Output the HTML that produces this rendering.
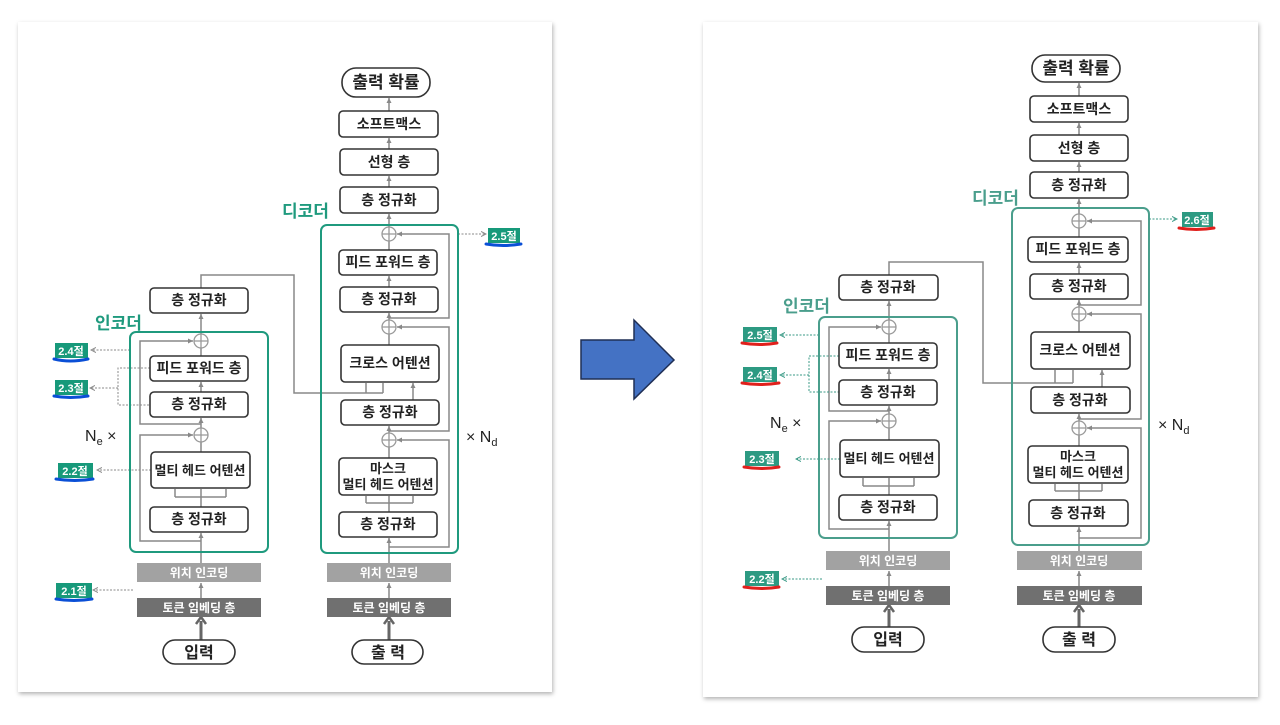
<!DOCTYPE html>
<html><head><meta charset="utf-8"><style>
body{margin:0;background:#fff;width:1280px;height:720px;overflow:hidden}
svg text{font-family:"Liberation Sans","Noto Sans CJK KR",sans-serif;font-weight:bold}
</style></head><body>
<svg width="1280" height="720" viewBox="0 0 1280 720" xmlns="http://www.w3.org/2000/svg">
<defs>
<marker id="a" markerWidth="6" markerHeight="6" refX="5" refY="3" orient="auto" markerUnits="userSpaceOnUse"><path d="M0,0.5 L5,3 L0,5.5 z" fill="#888"/></marker>
<marker id="ag" markerWidth="6" markerHeight="6" refX="5" refY="3" orient="auto" markerUnits="userSpaceOnUse"><path d="M0,0.5 L5,3 L0,5.5" fill="none" stroke="#888" stroke-width="1"/></marker>
<marker id="at" markerWidth="6" markerHeight="6" refX="5" refY="3" orient="auto" markerUnits="userSpaceOnUse"><path d="M0,0.5 L5,3 L0,5.5" fill="none" stroke="#3a9a86" stroke-width="1"/></marker>
<filter id="sh" x="-5%" y="-5%" width="110%" height="110%"><feDropShadow dx="1" dy="2" stdDeviation="2" flood-color="#000" flood-opacity="0.3"/></filter>
</defs>
<rect width="1280" height="720" fill="#fff"/>
<rect x="18" y="22" width="534" height="670" fill="#fff" filter="url(#sh)"/>
<rect x="703" y="22" width="555" height="675" fill="#fff" filter="url(#sh)"/>
<path d="M581,340 H634 V320 L674,360 L634,399 V379 H581 Z" fill="#4472c4" stroke="#1f2f55" stroke-width="1.5"/>

<!-- ============ LEFT ============ -->
<g stroke="#888" stroke-width="1.5" fill="none">
<!-- encoder -->
<line x1="201" y1="640" x2="201" y2="621" stroke="#666" stroke-width="3"/>
<path d="M196,624 L201,617 L206,624" stroke="#666" stroke-width="2.5"/>
<line x1="201" y1="598" x2="201" y2="583" marker-end="url(#a)"/>
<line x1="201" y1="563" x2="201" y2="533" marker-end="url(#a)"/>
<path d="M201,541 H140 V435 H193" marker-end="url(#a)"/>
<path d="M201,507 V497 M175,497 H226 M175,497 V489 M226,497 V489 M201,497 V489" />
<line x1="201" y1="452" x2="201" y2="442"/>
<line x1="201" y1="428" x2="201" y2="418" marker-end="url(#a)"/>
<path d="M201,424 H140 V341 H193" marker-end="url(#a)"/>
<line x1="201" y1="392" x2="201" y2="382" marker-end="url(#a)"/>
<line x1="201" y1="356" x2="201" y2="348"/>
<line x1="201" y1="334" x2="201" y2="314" marker-end="url(#a)"/>
<path d="M201,288 V275 H294 V393 H383 M366,393 V383 M383,393 V383"/>
<!-- decoder -->
<line x1="389" y1="640" x2="389" y2="621" stroke="#666" stroke-width="3"/>
<path d="M384,624 L389,617 L394,624" stroke="#666" stroke-width="2.5"/>
<line x1="389" y1="598" x2="389" y2="583" marker-end="url(#a)"/>
<line x1="389" y1="563" x2="389" y2="538" marker-end="url(#a)"/>
<path d="M389,547 H449 V440 H397" marker-end="url(#a)"/>
<path d="M389,512 V503 M366,503 H413 M366,503 V496 M413,503 V496 M389,503 V496"/>
<line x1="389" y1="458" x2="389" y2="447"/>
<line x1="389" y1="433" x2="389" y2="426" marker-end="url(#a)"/>
<path d="M389,431 H449 V327 H397" marker-end="url(#a)"/>
<line x1="413" y1="400" x2="413" y2="383" marker-end="url(#a)"/>
<line x1="389" y1="345" x2="389" y2="334"/>
<line x1="389" y1="320" x2="389" y2="313" marker-end="url(#a)"/>
<path d="M389,318 H449 V234 H397" marker-end="url(#a)"/>
<line x1="389" y1="287" x2="389" y2="276" marker-end="url(#a)"/>
<line x1="389" y1="250" x2="389" y2="241"/>
<line x1="389" y1="227" x2="389" y2="214" marker-end="url(#a)"/>
<line x1="389" y1="187" x2="389" y2="176" marker-end="url(#a)"/>
<line x1="389" y1="149" x2="389" y2="138" marker-end="url(#a)"/>
<line x1="389" y1="111" x2="389" y2="98" marker-end="url(#a)"/>
</g>
<g stroke="#888" stroke-width="1" fill="none" stroke-dasharray="2,1.5">
<line x1="130" y1="350" x2="91" y2="350" marker-end="url(#ag)"/>
<path d="M150,368 H118 V405 H150 M118,388 H91" />
<line x1="91" y1="388" x2="90" y2="388" marker-end="url(#ag)"/>
<line x1="151" y1="470" x2="97" y2="470" marker-end="url(#ag)"/>
<line x1="133" y1="590" x2="93" y2="590" marker-end="url(#ag)"/>
<line x1="458" y1="234" x2="486" y2="234" marker-end="url(#ag)"/>
</g>
<!-- containers -->
<rect x="130" y="332" width="138" height="220" rx="6" fill="none" stroke="#1f9a7e" stroke-width="2"/>
<rect x="321" y="225" width="137" height="328" rx="6" fill="none" stroke="#1f9a7e" stroke-width="2"/>
<g fill="#fff" stroke="#999" stroke-width="1.3">
<circle cx="201" cy="341" r="7"/><circle cx="201" cy="435" r="7"/>
<circle cx="389" cy="234" r="7"/><circle cx="389" cy="327" r="7"/><circle cx="389" cy="440" r="7"/>
</g>
<g stroke="#999" stroke-width="1.3">
<path d="M194,341H208M201,334V348M194,435H208M201,428V442M382,234H396M389,227V241M382,327H396M389,320V334M382,440H396M389,433V447"/>
</g>
<g fill="#fff" stroke="#333" stroke-width="1.6">
<rect x="342" y="68" width="88" height="29" rx="14"/>
<rect x="339" y="111" width="99" height="26" rx="4"/>
<rect x="340" y="149" width="98" height="26" rx="4"/>
<rect x="340" y="187" width="98" height="26" rx="4"/>
<rect x="339" y="250" width="98" height="25" rx="4"/>
<rect x="340" y="287" width="98" height="25" rx="4"/>
<rect x="341" y="345" width="98" height="37" rx="4"/>
<rect x="341" y="400" width="98" height="25" rx="4"/>
<rect x="339" y="458" width="98" height="37" rx="4"/>
<rect x="339" y="512" width="98" height="25" rx="4"/>
<rect x="352" y="640" width="71" height="24" rx="12"/>
<rect x="150" y="288" width="98" height="25" rx="4"/>
<rect x="150" y="356" width="98" height="25" rx="4"/>
<rect x="150" y="392" width="98" height="25" rx="4"/>
<rect x="151" y="452" width="99" height="36" rx="4"/>
<rect x="150" y="507" width="98" height="25" rx="4"/>
<rect x="163" y="640" width="72" height="24" rx="12"/>
</g>
<rect x="137" y="563" width="124" height="19" fill="#a2a2a2"/>
<rect x="137" y="598" width="124" height="19" fill="#707070"/>
<rect x="327" y="563" width="124" height="19" fill="#a2a2a2"/>
<rect x="327" y="598" width="124" height="19" fill="#707070"/>
<g font-size="14" text-anchor="middle" fill="#222">
<text x="386" y="88" font-size="17">출력 확률</text>
<text x="389" y="129">소프트맥스</text>
<text x="389" y="167">선형 층</text>
<text x="389" y="205">층 정규화</text>
<text x="388" y="267">피드 포워드 층</text>
<text x="389" y="304">층 정규화</text>
<text x="390" y="368">크로스 어텐션</text>
<text x="390" y="417">층 정규화</text>
<text x="388" y="473" font-size="13">마스크</text>
<text x="388" y="489" font-size="13">멀티 헤드 어텐션</text>
<text x="388" y="529">층 정규화</text>
<text x="388" y="658" font-size="16">출 력</text>
<text x="199" y="305">층 정규화</text>
<text x="199" y="373">피드 포워드 층</text>
<text x="199" y="409">층 정규화</text>
<text x="200" y="475" font-size="13">멀티 헤드 어텐션</text>
<text x="199" y="524">층 정규화</text>
<text x="199" y="658" font-size="16">입력</text>
<text x="199" y="577" font-size="12" fill="#fff">위치 인코딩</text>
<text x="199" y="612" font-size="12" fill="#fff">토큰 임베딩 층</text>
<text x="389" y="577" font-size="12" fill="#fff">위치 인코딩</text>
<text x="389" y="612" font-size="12" fill="#fff">토큰 임베딩 층</text>
</g>
<text x="282" y="217" font-size="17" fill="#1f9a7e">디코더</text>
<text x="95" y="329" font-size="17" fill="#1f9a7e">인코더</text>
<text x="85" y="441" font-size="16" font-weight="normal" fill="#222" style="font-weight:normal">N<tspan font-size="11" dy="4">e</tspan><tspan dy="-4"> ×</tspan></text>
<text x="466" y="442" font-size="16" fill="#222" style="font-weight:normal">× N<tspan font-size="11" dy="4">d</tspan></text>
<!-- badges left -->
<g font-size="11" fill="#fff" text-anchor="middle">
<rect x="55" y="343" width="33" height="15" fill="#17997a"/><text x="71" y="355">2.4절</text>
<rect x="55" y="380" width="33" height="15" fill="#17997a"/><text x="71" y="392">2.3절</text>
<rect x="58" y="463" width="35" height="15" fill="#17997a"/><text x="75" y="475">2.2절</text>
<rect x="56" y="583" width="36" height="15" fill="#17997a"/><text x="74" y="595">2.1절</text>
<rect x="488" y="228" width="32" height="15" fill="#17997a"/><text x="504" y="240">2.5절</text>
</g>
<g stroke="#0a4fd6" stroke-width="3" fill="none" stroke-linecap="round">
<path d="M54,359 Q70,363 88,359"/><path d="M54,396 Q70,399 88,396"/><path d="M56,479 Q75,482 93,479"/><path d="M56,599 Q74,602 92,599"/><path d="M486,244 Q503,247 521,244"/>
</g>

<!-- ============ RIGHT ============ -->
<g stroke="#888" stroke-width="1.5" fill="none">
<line x1="889" y1="627" x2="889" y2="609" stroke="#666" stroke-width="3"/>
<path d="M884,612 L889,605 L894,612" stroke="#666" stroke-width="2.5"/>
<line x1="889" y1="586" x2="889" y2="571" marker-end="url(#a)"/>
<line x1="889" y1="551" x2="889" y2="521" marker-end="url(#a)"/>
<path d="M889,529 H829 V421 H881" marker-end="url(#a)"/>
<path d="M889,495 V486 M863,486 H914 M863,486 V478 M914,486 V478 M889,486 V478"/>
<line x1="889" y1="440" x2="889" y2="428"/>
<line x1="889" y1="414" x2="889" y2="406" marker-end="url(#a)"/>
<path d="M889,411 H829 V327 H881" marker-end="url(#a)"/>
<line x1="889" y1="380" x2="889" y2="369" marker-end="url(#a)"/>
<line x1="889" y1="343" x2="889" y2="334"/>
<line x1="889" y1="320" x2="889" y2="301" marker-end="url(#a)"/>
<path d="M889,275 V262 H983 V383 H1073 M1055,383 V370 M1073,383 V370"/>
<line x1="1079" y1="627" x2="1079" y2="609" stroke="#666" stroke-width="3"/>
<path d="M1074,612 L1079,605 L1084,612" stroke="#666" stroke-width="2.5"/>
<line x1="1079" y1="586" x2="1079" y2="571" marker-end="url(#a)"/>
<line x1="1079" y1="551" x2="1079" y2="527" marker-end="url(#a)"/>
<path d="M1079,538 H1141 V428 H1087" marker-end="url(#a)"/>
<path d="M1079,500 V491 M1055,491 H1102 M1055,491 V484 M1102,491 V484 M1079,491 V484"/>
<line x1="1079" y1="446" x2="1079" y2="435"/>
<line x1="1079" y1="421" x2="1079" y2="414" marker-end="url(#a)"/>
<path d="M1079,419 H1141 V314 H1087" marker-end="url(#a)"/>
<line x1="1102" y1="387" x2="1102" y2="370" marker-end="url(#a)"/>
<line x1="1079" y1="332" x2="1079" y2="321"/>
<line x1="1079" y1="307" x2="1079" y2="300" marker-end="url(#a)"/>
<path d="M1079,305 H1141 V221 H1087" marker-end="url(#a)"/>
<line x1="1079" y1="274" x2="1079" y2="263" marker-end="url(#a)"/>
<line x1="1079" y1="237" x2="1079" y2="228"/>
<line x1="1079" y1="214" x2="1079" y2="199" marker-end="url(#a)"/>
<line x1="1079" y1="172" x2="1079" y2="162" marker-end="url(#a)"/>
<line x1="1079" y1="135" x2="1079" y2="123" marker-end="url(#a)"/>
<line x1="1079" y1="96" x2="1079" y2="83" marker-end="url(#a)"/>
</g>
<g stroke="#3a9a86" stroke-width="1" fill="none" stroke-dasharray="2,1.5">
<line x1="819" y1="335" x2="780" y2="335" marker-end="url(#at)"/>
<path d="M839,356 H809 V392 H839 M809,375 H780"/>
<line x1="781" y1="375" x2="780" y2="375" marker-end="url(#at)"/>
<line x1="840" y1="459" x2="796" y2="459" marker-end="url(#at)"/>
<line x1="822" y1="579" x2="782" y2="579" marker-end="url(#at)"/>
<line x1="1149" y1="219" x2="1177" y2="219" marker-end="url(#at)"/>
</g>
<rect x="819" y="317" width="138" height="221" rx="6" fill="none" stroke="#4a9e8c" stroke-width="2"/>
<rect x="1012" y="208" width="137" height="337" rx="6" fill="none" stroke="#4a9e8c" stroke-width="2"/>
<g fill="#fff" stroke="#999" stroke-width="1.3">
<circle cx="889" cy="327" r="7"/><circle cx="889" cy="421" r="7"/>
<circle cx="1079" cy="221" r="7"/><circle cx="1079" cy="314" r="7"/><circle cx="1079" cy="428" r="7"/>
</g>
<g stroke="#999" stroke-width="1.3">
<path d="M882,327H896M889,320V334M882,421H896M889,414V428M1072,221H1086M1079,214V228M1072,314H1086M1079,307V321M1072,428H1086M1079,421V435"/>
</g>
<g fill="#fff" stroke="#333" stroke-width="1.6">
<rect x="1032" y="55" width="88" height="27" rx="13"/>
<rect x="1030" y="96" width="98" height="26" rx="4"/>
<rect x="1030" y="135" width="98" height="26" rx="4"/>
<rect x="1030" y="172" width="98" height="26" rx="4"/>
<rect x="1028" y="237" width="100" height="25" rx="4"/>
<rect x="1030" y="274" width="98" height="25" rx="4"/>
<rect x="1031" y="332" width="99" height="37" rx="4"/>
<rect x="1031" y="387" width="99" height="26" rx="4"/>
<rect x="1028" y="446" width="100" height="37" rx="4"/>
<rect x="1029" y="500" width="99" height="26" rx="4"/>
<rect x="1043" y="627" width="72" height="25" rx="12"/>
<rect x="839" y="275" width="99" height="25" rx="4"/>
<rect x="839" y="343" width="98" height="25" rx="4"/>
<rect x="839" y="380" width="98" height="25" rx="4"/>
<rect x="840" y="440" width="99" height="37" rx="4"/>
<rect x="839" y="495" width="98" height="25" rx="4"/>
<rect x="852" y="627" width="72" height="25" rx="12"/>
</g>
<rect x="826" y="551" width="124" height="19" fill="#a2a2a2"/>
<rect x="826" y="586" width="124" height="19" fill="#707070"/>
<rect x="1017" y="551" width="125" height="19" fill="#a2a2a2"/>
<rect x="1017" y="586" width="125" height="19" fill="#707070"/>
<g font-size="14" text-anchor="middle" fill="#222">
<text x="1076" y="74" font-size="17">출력 확률</text>
<text x="1079" y="114">소프트맥스</text>
<text x="1079" y="153">선형 층</text>
<text x="1079" y="190">층 정규화</text>
<text x="1078" y="254">피드 포워드 층</text>
<text x="1079" y="291">층 정규화</text>
<text x="1080" y="355">크로스 어텐션</text>
<text x="1080" y="405">층 정규화</text>
<text x="1078" y="461" font-size="13">마스크</text>
<text x="1078" y="477" font-size="13">멀티 헤드 어텐션</text>
<text x="1078" y="518">층 정규화</text>
<text x="1079" y="645" font-size="16">출 력</text>
<text x="888" y="292">층 정규화</text>
<text x="888" y="360">피드 포워드 층</text>
<text x="888" y="397">층 정규화</text>
<text x="889" y="463" font-size="13">멀티 헤드 어텐션</text>
<text x="888" y="512">층 정규화</text>
<text x="888" y="645" font-size="16">입력</text>
<text x="888" y="565" font-size="12" fill="#fff">위치 인코딩</text>
<text x="888" y="600" font-size="12" fill="#fff">토큰 임베딩 층</text>
<text x="1079" y="565" font-size="12" fill="#fff">위치 인코딩</text>
<text x="1079" y="600" font-size="12" fill="#fff">토큰 임베딩 층</text>
</g>
<text x="972" y="204" font-size="17" fill="#4a9e8c">디코더</text>
<text x="783" y="312" font-size="17" fill="#4a9e8c">인코더</text>
<text x="770" y="428" font-size="16" fill="#222" style="font-weight:normal">N<tspan font-size="11" dy="4">e</tspan><tspan dy="-4"> ×</tspan></text>
<text x="1158" y="430" font-size="16" fill="#222" style="font-weight:normal">× N<tspan font-size="11" dy="4">d</tspan></text>
<g font-size="11" fill="#fff" text-anchor="middle">
<rect x="743" y="327" width="34" height="15" fill="#2d9a82"/><text x="760" y="339">2.5절</text>
<rect x="743" y="367" width="34" height="15" fill="#2d9a82"/><text x="760" y="379">2.4절</text>
<rect x="745" y="451" width="34" height="15" fill="#2d9a82"/><text x="762" y="463">2.3절</text>
<rect x="745" y="571" width="34" height="15" fill="#2d9a82"/><text x="762" y="583">2.2절</text>
<rect x="1182" y="212" width="31" height="15" fill="#2d9a82"/><text x="1197" y="224">2.6절</text>
</g>
<g stroke="#e0201c" stroke-width="3" fill="none" stroke-linecap="round">
<path d="M742,343 Q760,346 777,343"/><path d="M742,383 Q760,386 779,383"/><path d="M744,467 Q762,470 779,467"/><path d="M744,587 Q762,590 779,587"/><path d="M1179,228 Q1196,231 1214,228"/>
</g>
</svg>
</body></html>
